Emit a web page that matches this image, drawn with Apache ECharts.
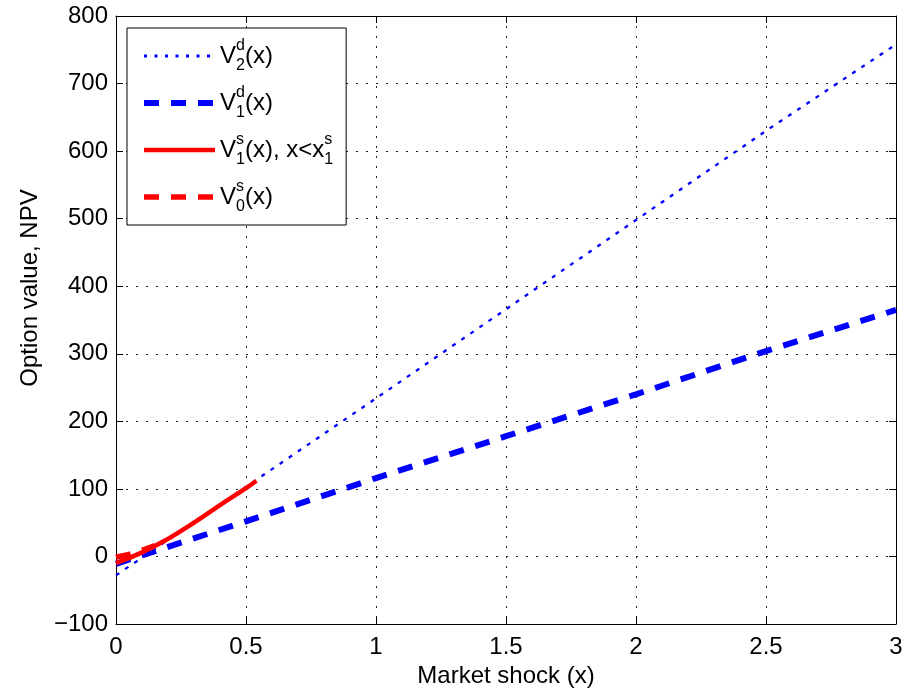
<!DOCTYPE html>
<html>
<head>
<meta charset="utf-8">
<script src="https://cdn.jsdelivr.net/npm/echarts@6/dist/echarts.min.js"></script>
<style>html,body{margin:0;padding:0;background:#fff}#c{width:911px;height:693px}</style>
</head>
<body>
<div id="c"></div>
<script>
// ---- data ----
const xTicks = [0, 0.5, 1, 1.5, 2, 2.5, 3];
const yTicks = [-100, 0, 100, 200, 300, 400, 500, 600, 700, 800];

const v2dX = [0, 0.5, 1, 1.5, 2, 2.5, 3];
const v2dY = [-28, 103, 234, 366, 498, 630, 758];

const v1dX = [0, 0.5, 1, 1.5, 2, 2.5, 3];
const v1dY = [-11, 52, 116, 178, 240, 304, 365];

const v1sX = [0, 0.1, 0.2, 0.3, 0.4, 0.5, 0.54];
const v1sY = [-10, 6, 26, 50, 76, 101, 112];

const v0sX = [0, 0.05, 0.1, 0.15];
const v0sY = [-1, 3, 9, 16];

const seriesNames = ['V2d', 'V1d', 'V1s', 'V0s'];
const legendLabels = {
  V2d: '{v|V}{sp|d}{sb|2}{v|(x)}',
  V1d: '{v|V}{sp|d}{sb|1}{v|(x)}',
  V1s: '{v|V}{sp|s}{sb|1}{v|(x), x<x}{sp|s}{sb|1}',
  V0s: '{v|V}{sp|s}{sb|0}{v|(x)}'
};
const xLabel = 'Market shock (x)';
const yLabel = 'Option value, NPV';

function pairs(xs, ys) { return xs.map((x, i) => [x, ys[i]]); }

const FONT = '"Liberation Sans", Arial, Helvetica, sans-serif';
const FS = 24;
const BLUE = '#0000ff', RED = '#ff0000';
const styles = {
  V2d: {color: BLUE, width: 2.3, type: [4, 7]},
  V1d: {color: BLUE, width: 6, type: [15, 12]},
  V1s: {color: RED, width: 4.5, type: 'solid'},
  V0s: {color: RED, width: 5.5, type: [15, 12]}
};
const legendStyles = {
  V2d: {color: BLUE, width: 3, type: [3, 7.5]},
  V1d: styles.V1d, V1s: styles.V1s, V0s: styles.V0s
};
const chart = echarts.init(document.getElementById('c'), null, {renderer: 'canvas'});

const axisCommon = {
  axisLine: {show: true, onZero: false, lineStyle: {color: '#000', width: 1}},
  axisTick: {show: true, inside: true, length: 7, lineStyle: {color: '#000', width: 1}}
};

chart.setOption({
  backgroundColor: '#fff',
  animation: false,
  grid: {left: 116, right: 15, top: 16, bottom: 65, containLabel: false},
  xAxis: [
    Object.assign({
      type: 'value', min: xTicks[0], max: xTicks[xTicks.length - 1], interval: 0.5,
      name: xLabel, nameLocation: 'middle', nameGap: 40,
      nameTextStyle: {fontFamily: FONT, fontSize: FS, color: '#000'},
      axisLabel: {fontFamily: FONT, fontSize: FS, color: '#000', margin: 11,
        formatter: v => String(v)},
      splitLine: {show: true, lineStyle: {color: '#222', width: 1, type: [2, 8]}}
    }, axisCommon),
    Object.assign({
      type: 'value', position: 'top', min: xTicks[0], max: xTicks[xTicks.length - 1], interval: 0.5,
      axisLabel: {show: false}, splitLine: {show: false}
    }, axisCommon)
  ],
  yAxis: [
    Object.assign({
      type: 'value', min: yTicks[0], max: yTicks[yTicks.length - 1], interval: 100,
      axisLabel: {fontFamily: FONT, fontSize: FS, color: '#000', margin: 8,
        formatter: v => (v < 0 ? '\u2212' + Math.abs(v) : String(v))},
      splitLine: {show: true, lineStyle: {color: '#222', width: 1, type: [2, 8]}}
    }, axisCommon),
    Object.assign({
      type: 'value', position: 'right', min: yTicks[0], max: yTicks[yTicks.length - 1], interval: 100,
      axisLabel: {show: false}, splitLine: {show: false}
    }, axisCommon)
  ],
  legend: {
    orient: 'vertical', left: 127, top: 28,
    data: seriesNames.map(n => ({name: n, lineStyle: Object.assign({}, legendStyles[n]), itemStyle: {opacity: 0}})),
    backgroundColor: '#fff', borderColor: '#000', borderWidth: 1, borderRadius: 0,
    padding: [10, 13, 10, 14], itemGap: 11, itemWidth: 71, itemHeight: 14,
    itemStyle: {opacity: 0},
    formatter: name => legendLabels[name],
    textStyle: {
      fontFamily: FONT, fontSize: 24, color: '#000', lineHeight: 36,
      rich: {
        v: {fontFamily: FONT, fontSize: 24, color: '#000', lineHeight: 36},
        sp: {fontFamily: FONT, fontSize: 16, color: '#000', lineHeight: 18, verticalAlign: 'top', width: 0},
        sb: {fontFamily: FONT, fontSize: 16, color: '#000', lineHeight: 18, verticalAlign: 'bottom'}
      }
    }
  },
  graphic: [{
    type: 'text', x: 30, y: 288, rotation: Math.PI / 2,
    style: {text: yLabel, fontFamily: FONT, fontSize: FS, fill: '#000', align: 'center', verticalAlign: 'middle'}
  }],
  series: seriesNames.map((n, i) => {
    const xs = [v2dX, v1dX, v1sX, v0sX][i];
    const ys = [v2dY, v1dY, v1sY, v0sY][i];
    return {
      name: n, type: 'line', data: pairs(xs, ys), showSymbol: false, symbol: 'none',
      smooth: n === 'V1s' ? 0.5 : false,
      lineStyle: Object.assign({}, styles[n]), itemStyle: {color: styles[n].color}, z: 2 + i
    };
  })
});
</script>
</body>
</html>
